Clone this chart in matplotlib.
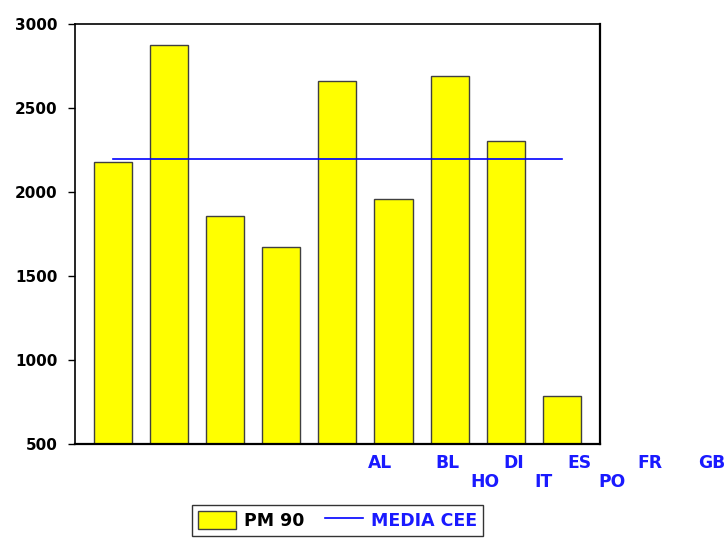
import numpy as np
import matplotlib.pyplot as plt
from matplotlib.patches import Patch
from matplotlib.lines import Line2D

plt.rcParams['font.family'] = ['DejaVu Sans']

# PM 90 values per bar, and the CEE mean
pm90 = [2180, 2875, 1857, 1673, 2661, 1958, 2690, 2304, 786]
media_cee = 2196
yticks = [500, 1000, 1500, 2000, 2500, 3000]

# category labels (shifted/staggered as in the original output)
cats_top = ['AL', 'BL', 'DI', 'ES', 'FR', 'GB']
cats_bot = ['HO', 'IT', 'PO']
top_pos = [5.76, 6.97, 8.15, 9.32, 10.57, 11.68]
bot_pos = [7.63, 8.68, 9.89]

x = np.arange(1, len(pm90) + 1)

fig = plt.figure(figsize=(7.28, 5.39), dpi=100)
ax = fig.add_axes([0.103, 0.176, 0.721, 0.779])

ax.bar(x, pm90, width=0.68, bottom=0, color='#ffff00', edgecolor='#404040', linewidth=1.0)
ax.plot([x[0], x[-1]], [media_cee, media_cee], color='#0000ff', linewidth=1.2)

ax.set_xlim(1 - 0.68, len(pm90) + 0.68)
ax.set_ylim(500, 3000)
ax.set_yticks(yticks)
ax.set_yticklabels([str(v) for v in yticks], fontsize=11, fontweight='bold')
ax.tick_params(axis='y', direction='out', length=5, width=1, pad=7.5)
ax.set_xticks([])
for s in ax.spines.values():
    s.set_linewidth(1.2)
ax.spines['right'].set_linewidth(1.6)
ax.spines['bottom'].set_linewidth(1.6)

trans = ax.get_xaxis_transform()
for lab, p in zip(cats_top, top_pos):
    ax.text(p, -0.045, lab, transform=trans, ha='center', va='center',
            fontsize=12.3, fontweight='bold', color='#1a1aff', clip_on=False)
for lab, p in zip(cats_bot, bot_pos):
    ax.text(p, -0.089, lab, transform=trans, ha='center', va='center',
            fontsize=12.3, fontweight='bold', color='#1a1aff', clip_on=False)

handles = [Patch(facecolor='#ffff00', edgecolor='#404040'),
           Line2D([0], [0], color='#0000ff', linewidth=1.2)]
leg = fig.legend(handles, ['PM 90', 'MEDIA CEE'], loc='upper center',
                 bbox_to_anchor=(0.4636, 0.063), ncol=2,
                 prop={'size': 12.5, 'weight': 'bold'},
                 frameon=True, fancybox=False, edgecolor='black',
                 handlelength=2.2, handleheight=1.2, columnspacing=1.15,
                 borderpad=0.35, handletextpad=0.45, borderaxespad=0)
leg.get_frame().set_linewidth(1.0)
leg.get_texts()[1].set_color('#1a1aff')

fig.savefig('out.png', dpi=100)
